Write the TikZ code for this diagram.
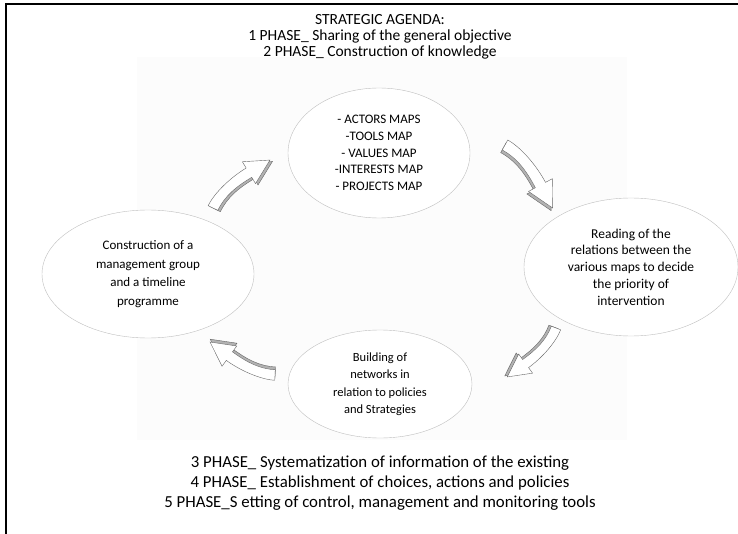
\documentclass[tikz,border=0pt]{standalone}
\usepackage{fontspec}
\setmainfont{Carlito}
\usetikzlibrary{shapes.geometric}

\newcommand{\bentarrowpath}{(-3,-4.6) .. controls (9.6,-12.7) and (32,-17.5) .. (50,-17.5) -- (50,-25) -- (75,-12) -- (50,1) -- (50,-6.5) .. controls (32,-6.5) and (17,-4.6) .. (3,4.6) -- cycle}

\tikzset{
  bentarrow/.pic={
    \path[fill=black!30,draw=black!60,shift={(1.5,2.5)}] \bentarrowpath;
    \path[fill=white,draw=black!60] \bentarrowpath;
  },
  bubble/.style={ellipse,draw=black!25,fill=white,align=center,inner sep=0pt,font=\fontsize{13}{16.7}\selectfont}
}

\begin{document}
\begin{tikzpicture}[x=1pt,y=-1pt]
  \useasboundingbox (0,0) rectangle (738,534);
  \fill[black!1] (137,57) rectangle (627,440);
  \draw[line width=1.5pt] (6,534) -- (6,4) -- (738,4);

  \node[align=center,font=\fontsize{15.5}{16}\selectfont] (title) at (380,37)
    {STRATEGIC AGENDA:\\ 1 PHASE\_ Sharing of the general objective\\ 2 PHASE\_ Construction of knowledge};

  \node[bubble,minimum width=182pt,minimum height=130pt] (maps) at (379,153)
    {- ACTORS MAPS\\ -TOOLS MAP\\ - VALUES MAP\\ -INTERESTS MAP\\ - PROJECTS MAP};
  \node[bubble,minimum width=214pt,minimum height=138pt,font=\fontsize{13.5}{16.7}\selectfont] (reading) at (631,267)
    {Reading of the\\ relations between the\\ various maps to decide\\ the priority of\\ intervention};
  \node[bubble,minimum width=184pt,minimum height=108pt,font=\fontsize{12.5}{17.5}\selectfont] (networks) at (380,384)
    {Building of\\ networks in\\ relation to policies\\ and Strategies};
  \node[bubble,minimum width=212pt,minimum height=128pt,font=\fontsize{13}{18.5}\selectfont] (group) at (148,274)
    {Construction of a\\ management group\\ and a timeline\\ programme};

  \foreach \x/\y/\r/\s in {213/208/31/0.98, 505/145/-62/1.04, 556/328/-144/0.91, 275/375/144/0.96}
    \pic[rotate=\r,scale=\s] at (\x,\y) {bentarrow};

  \node[align=center,font=\fontsize{16.8}{20}\selectfont] (phases) at (380,483)
    {3 PHASE\_ Systematization of information of the existing\\ 4 PHASE\_ Establishment of choices, actions and policies\\ 5 PHASE\_S etting of control, management and monitoring tools};
\end{tikzpicture}
\end{document}
